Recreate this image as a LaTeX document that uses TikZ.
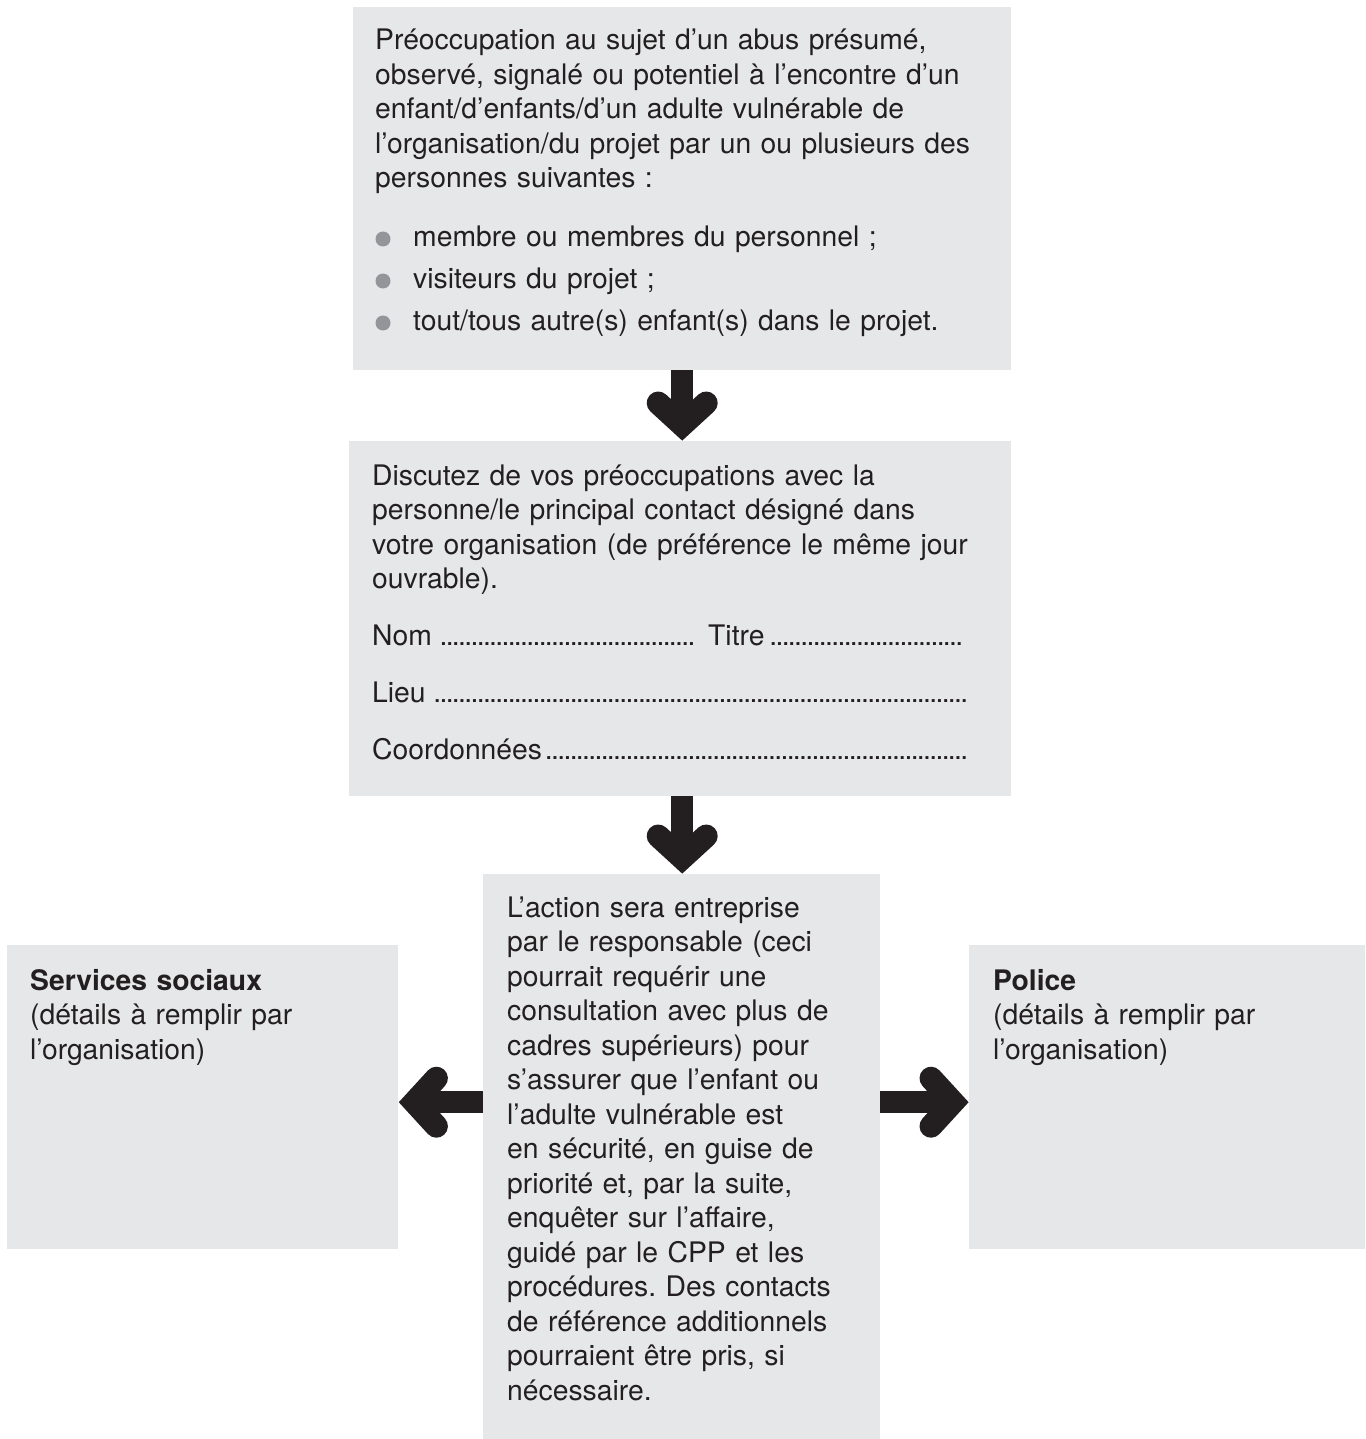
\documentclass[tikz,border=0pt]{standalone}
\usepackage{fontspec}
\setmainfont{TeX Gyre Heros}
\usetikzlibrary{calc}
\definecolor{boxc}{HTML}{E6E7E8}
\definecolor{inkc}{HTML}{231F20}
\definecolor{bulc}{HTML}{939598}
\newcommand\dotlead{\leaders\hbox to 6.2pt{\hss.\hss}\hfill}
\frenchspacing
\begin{document}
\frenchspacing
\begin{tikzpicture}[x=1pt,y=-1pt,
  box/.style={fill=boxc, draw=none, inner sep=0pt, anchor=north west},
  txt/.style={text=inkc, inner sep=0pt, anchor=base west, align=left, text width=#1,
    font=\fontsize{28.3}{34.5}\selectfont\frenchspacing},
  shaft/.style={draw=inkc, line width=22pt},
  chev/.style={draw=inkc, line width=23pt, line cap=round, line join=miter}]
\useasboundingbox (0,0) rectangle (1365,1439);

% boxes
\node[box, minimum width=658pt, minimum height=363pt] (top) at (353,7) {};
\node[box, minimum width=662pt, minimum height=355pt] (disc) at (349,441) {};
\node[box, minimum width=397pt, minimum height=565pt] (act) at (483,874) {};
\node[box, minimum width=391pt, minimum height=304pt] (soc) at (7,945) {};
\node[box, minimum width=396pt, minimum height=304pt] (pol) at (969,945) {};

% texts
\node[txt=630pt] (toptxt) at (375,50) {Préoccupation au sujet d’un abus présumé,\\
observé, signalé ou potentiel à l’encontre d’un\\
enfant/d’enfants/d’un adulte vulnérable de\\
l’organisation/du projet par un ou plusieurs des\\
personnes suivantes~:\\[24.5pt]
\hspace*{38pt}membre ou membres du personnel~;\\[7.5pt]
\hspace*{38pt}visiteurs du projet~;\\[7.5pt]
\hspace*{38pt}tout/tous autre(s) enfant(s) dans le projet.};
\fill[bulc] (383,239) circle (7.5pt);
\fill[bulc] (383,281) circle (7.5pt);
\fill[bulc] (383,323) circle (7.5pt);

\node[txt=630pt] (disctxt) at (372,485) {Discutez de vos préoccupations avec la\\
personne/le principal contact désigné dans\\
votre organisation (de préférence le même jour\\
ouvrable).\\[22.5pt]
\leavevmode\hbox to 596pt{\hbox to 327pt{Nom\,\dotlead}\hskip 9pt\hbox to 260pt{Titre\dotlead}}\\[22.5pt]
\leavevmode\hbox to 596pt{Lieu\,\dotlead}\\[22.5pt]
\leavevmode\hbox to 596pt{Coordonnées\dotlead}};

\node[txt=360pt] (acttxt) at (507,917) {L’action sera entreprise\\
par le responsable (ceci\\
pourrait requérir une\\
consultation avec plus de\\
cadres supérieurs) pour\\
s’assurer que l’enfant ou\\
l’adulte vulnérable est\\
en sécurité, en guise de\\
priorité et, par la suite,\\
enquêter sur l’affaire,\\
guidé par le CPP et les\\
procédures. Des contacts\\
de référence additionnels\\
pourraient être pris, si\\
nécessaire.};

\node[txt=360pt] (soctxt) at (30,990) {\textbf{Services sociaux}\\
(détails à remplir par\\
l’organisation)};
\node[txt=360pt] (poltxt) at (993,990) {\textbf{Police}\\
(détails à remplir par\\
l’organisation)};

% arrows
\coordinate (t1) at (top.south |- disc.north);
\draw[shaft] (top.south) -- ($(t1)+(0,-16)$);
\draw[chev] ($(t1)+(-24,-38)$) -- ($(t1)+(0,-16)$) -- ($(t1)+(24,-38)$);

\coordinate (t2) at (top.south |- act.north);
\draw[shaft] (top.south |- disc.south) -- ($(t2)+(0,-16)$);
\draw[chev] ($(t2)+(-24,-38)$) -- ($(t2)+(0,-16)$) -- ($(t2)+(24,-38)$);

\coordinate (t3) at ([yshift=-5pt]soc.east);
\draw[shaft] (t3 -| act.west) -- ($(t3)+(16,0)$);
\draw[chev] ($(t3)+(38,-24)$) -- ($(t3)+(16,0)$) -- ($(t3)+(38,24)$);

\coordinate (t4) at ([yshift=-5pt]pol.west);
\draw[shaft] (t4 -| act.east) -- ($(t4)+(-16,0)$);
\draw[chev] ($(t4)+(-38,-24)$) -- ($(t4)+(-16,0)$) -- ($(t4)+(-38,24)$);
\end{tikzpicture}
\end{document}
